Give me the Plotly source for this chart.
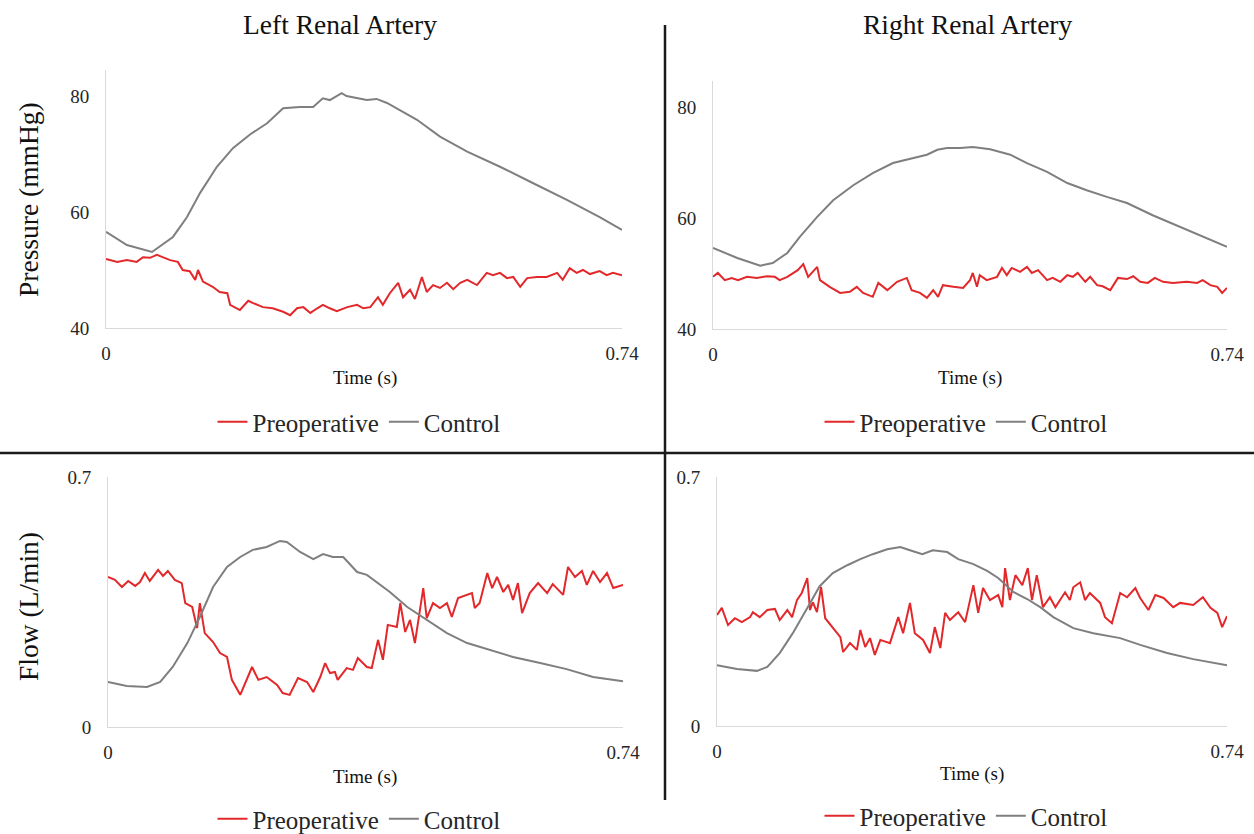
import plotly.graph_objects as go

# ---------------- data (time in s) ----------------
left_pressure_control = [(0, 56.6), (0.030, 54.3), (0.066, 53.1), (0.096, 55.7), (0.116, 59.1), (0.135, 63.3),
    (0.159, 67.8), (0.182, 71.0), (0.207, 73.4), (0.231, 75.3), (0.254, 77.9), (0.278, 78.1), (0.297, 78.1),
    (0.311, 79.6), (0.321, 79.3), (0.338, 80.5), (0.345, 80.0), (0.360, 79.6), (0.374, 79.3), (0.388, 79.5),
    (0.403, 78.8), (0.446, 75.9), (0.479, 73.0), (0.518, 70.4), (0.565, 67.8), (0.612, 65.0), (0.661, 62.1),
    (0.708, 59.1), (0.74, 56.9)]
left_pressure_preop = [(0, 51.9), (0.016, 51.4), (0.030, 51.7), (0.044, 51.4), (0.053, 52.2), (0.063, 52.1),
    (0.073, 52.6), (0.082, 52.2), (0.092, 51.7), (0.103, 51.4), (0.110, 50.0), (0.120, 49.8), (0.128, 48.3),
    (0.132, 50.0), (0.139, 48.0), (0.153, 47.1), (0.163, 46.2), (0.174, 46.0), (0.178, 44.0), (0.192, 43.1),
    (0.204, 44.7), (0.211, 44.3), (0.225, 43.6), (0.239, 43.4), (0.254, 42.8), (0.264, 42.2), (0.274, 43.4),
    (0.283, 43.6), (0.293, 42.6), (0.303, 43.4), (0.311, 44.0), (0.321, 43.4), (0.331, 42.9), (0.346, 43.6),
    (0.360, 44.0), (0.369, 43.4), (0.379, 43.6), (0.390, 45.3), (0.397, 44.0), (0.407, 46.0), (0.419, 47.8),
    (0.426, 45.3), (0.436, 46.6), (0.443, 45.0), (0.453, 48.8), (0.460, 46.2), (0.469, 47.4), (0.479, 46.9),
    (0.489, 47.8), (0.498, 46.7), (0.508, 47.8), (0.518, 48.3), (0.526, 47.8), (0.532, 47.4), (0.546, 49.5),
    (0.555, 49.1), (0.565, 49.5), (0.575, 48.6), (0.584, 48.8), (0.594, 47.1), (0.604, 48.6), (0.618, 48.8),
    (0.632, 48.8), (0.647, 49.5), (0.655, 48.3), (0.665, 50.3), (0.675, 49.5), (0.684, 50.0), (0.694, 49.3),
    (0.708, 49.8), (0.718, 49.1), (0.727, 49.5), (0.74, 49.1)]

right_pressure_control = [(0, 54.6), (0.035, 52.8), (0.068, 51.4), (0.086, 51.9), (0.107, 53.7), (0.125, 56.6),
    (0.150, 60.2), (0.173, 63.2), (0.202, 65.9), (0.230, 68.1), (0.259, 69.9), (0.288, 70.8), (0.308, 71.4),
    (0.323, 72.3), (0.337, 72.6), (0.356, 72.6), (0.374, 72.8), (0.399, 72.4), (0.428, 71.4), (0.452, 69.9),
    (0.481, 68.3), (0.510, 66.3), (0.538, 65.0), (0.567, 63.8), (0.596, 62.7), (0.633, 60.5), (0.672, 58.4),
    (0.711, 56.4), (0.74, 54.8)]
right_pressure_preop = [(0, 49.4), (0.007, 50.1), (0.017, 48.8), (0.027, 49.2), (0.036, 48.8), (0.049, 49.4),
    (0.063, 49.2), (0.078, 49.5), (0.089, 49.4), (0.096, 48.8), (0.107, 49.4), (0.115, 50.1), (0.122, 50.6),
    (0.130, 51.7), (0.137, 49.4), (0.150, 51.2), (0.154, 48.8), (0.168, 47.6), (0.183, 46.5), (0.197, 46.7),
    (0.207, 47.6), (0.216, 46.5), (0.230, 45.8), (0.238, 48.3), (0.251, 47.0), (0.265, 48.5), (0.279, 49.2),
    (0.286, 47.0), (0.298, 46.5), (0.308, 45.6), (0.317, 47.0), (0.324, 45.8), (0.331, 47.9), (0.346, 47.6),
    (0.360, 47.4), (0.370, 48.8), (0.374, 50.1), (0.380, 47.6), (0.384, 49.7), (0.394, 48.8), (0.409, 49.4),
    (0.416, 51.0), (0.423, 49.7), (0.430, 51.0), (0.442, 50.3), (0.452, 51.2), (0.459, 50.1), (0.468, 50.6),
    (0.481, 48.8), (0.489, 49.2), (0.500, 48.5), (0.510, 49.7), (0.518, 49.4), (0.525, 50.1), (0.536, 48.5),
    (0.543, 49.4), (0.553, 47.9), (0.561, 47.7), (0.572, 47.0), (0.583, 49.2), (0.596, 49.0), (0.605, 49.5),
    (0.615, 48.5), (0.626, 48.3), (0.636, 49.2), (0.648, 48.5), (0.662, 48.3), (0.682, 48.5), (0.697, 48.3),
    (0.705, 48.8), (0.716, 47.9), (0.726, 47.6), (0.733, 46.5), (0.74, 47.4)]

left_flow_control = [(0, 0.126), (0.027, 0.115), (0.056, 0.112), (0.075, 0.126), (0.093, 0.168), (0.114, 0.235),
    (0.132, 0.308), (0.151, 0.392), (0.171, 0.448), (0.190, 0.476), (0.208, 0.496), (0.228, 0.504),
    (0.247, 0.521), (0.257, 0.518), (0.276, 0.490), (0.295, 0.470), (0.309, 0.484), (0.323, 0.476),
    (0.338, 0.476), (0.358, 0.434), (0.372, 0.426), (0.391, 0.398), (0.405, 0.378), (0.430, 0.336),
    (0.458, 0.300), (0.487, 0.263), (0.516, 0.235), (0.545, 0.218), (0.582, 0.196), (0.621, 0.179),
    (0.659, 0.162), (0.697, 0.140), (0.74, 0.128)]
left_flow_preop = [(0, 0.420), (0.010, 0.412), (0.020, 0.392), (0.029, 0.409), (0.039, 0.395), (0.046, 0.406),
    (0.053, 0.431), (0.060, 0.409), (0.072, 0.440), (0.079, 0.423), (0.086, 0.437), (0.096, 0.412),
    (0.106, 0.403), (0.111, 0.347), (0.121, 0.336), (0.128, 0.277), (0.132, 0.347), (0.139, 0.263),
    (0.151, 0.238), (0.161, 0.207), (0.171, 0.196), (0.178, 0.132), (0.190, 0.090), (0.200, 0.137),
    (0.207, 0.168), (0.216, 0.132), (0.228, 0.140), (0.243, 0.118), (0.251, 0.095), (0.261, 0.090),
    (0.273, 0.137), (0.286, 0.126), (0.295, 0.098), (0.305, 0.140), (0.312, 0.179), (0.319, 0.151),
    (0.326, 0.154), (0.330, 0.132), (0.343, 0.165), (0.352, 0.160), (0.359, 0.193), (0.372, 0.168),
    (0.379, 0.165), (0.388, 0.244), (0.395, 0.188), (0.402, 0.286), (0.415, 0.280), (0.420, 0.347),
    (0.427, 0.266), (0.434, 0.300), (0.441, 0.235), (0.453, 0.389), (0.458, 0.305), (0.467, 0.347),
    (0.477, 0.333), (0.487, 0.347), (0.494, 0.308), (0.503, 0.361), (0.516, 0.370), (0.523, 0.375),
    (0.527, 0.333), (0.534, 0.347), (0.545, 0.431), (0.552, 0.389), (0.559, 0.420), (0.568, 0.378),
    (0.575, 0.398), (0.582, 0.356), (0.589, 0.403), (0.595, 0.319), (0.606, 0.375), (0.618, 0.403),
    (0.631, 0.375), (0.639, 0.400), (0.654, 0.370), (0.661, 0.448), (0.671, 0.420), (0.681, 0.437),
    (0.688, 0.398), (0.697, 0.437), (0.707, 0.406), (0.717, 0.431), (0.726, 0.389), (0.74, 0.398)]

right_flow_control = [(0, 0.171), (0.029, 0.160), (0.058, 0.155), (0.073, 0.166), (0.091, 0.205), (0.110, 0.261),
    (0.131, 0.332), (0.149, 0.393), (0.168, 0.430), (0.189, 0.452), (0.208, 0.469), (0.226, 0.483),
    (0.247, 0.497), (0.266, 0.503), (0.280, 0.494), (0.298, 0.483), (0.313, 0.494), (0.334, 0.489),
    (0.350, 0.469), (0.372, 0.455), (0.392, 0.436), (0.408, 0.416), (0.430, 0.377), (0.450, 0.357),
    (0.469, 0.334), (0.488, 0.306), (0.517, 0.275), (0.546, 0.261), (0.585, 0.247), (0.614, 0.228),
    (0.653, 0.205), (0.691, 0.188), (0.74, 0.171)]
right_flow_preop = [(0, 0.312), (0.007, 0.332), (0.016, 0.284), (0.026, 0.303), (0.036, 0.292), (0.048, 0.306),
    (0.052, 0.320), (0.062, 0.306), (0.073, 0.326), (0.084, 0.329), (0.091, 0.298), (0.102, 0.326),
    (0.109, 0.306), (0.116, 0.354), (0.123, 0.374), (0.131, 0.416), (0.135, 0.326), (0.139, 0.348),
    (0.145, 0.320), (0.151, 0.391), (0.157, 0.303), (0.168, 0.275), (0.179, 0.250), (0.183, 0.208),
    (0.193, 0.233), (0.203, 0.214), (0.208, 0.270), (0.215, 0.222), (0.222, 0.247), (0.229, 0.200),
    (0.237, 0.242), (0.251, 0.233), (0.263, 0.306), (0.270, 0.261), (0.280, 0.346), (0.287, 0.261),
    (0.299, 0.242), (0.309, 0.205), (0.316, 0.278), (0.324, 0.219), (0.331, 0.318), (0.338, 0.298),
    (0.350, 0.320), (0.360, 0.292), (0.372, 0.396), (0.379, 0.318), (0.386, 0.388), (0.396, 0.354),
    (0.408, 0.368), (0.414, 0.334), (0.418, 0.444), (0.425, 0.354), (0.433, 0.424), (0.443, 0.396),
    (0.451, 0.444), (0.457, 0.354), (0.464, 0.424), (0.473, 0.334), (0.483, 0.362), (0.491, 0.334),
    (0.505, 0.376), (0.512, 0.354), (0.517, 0.390), (0.527, 0.404), (0.534, 0.354), (0.541, 0.374),
    (0.556, 0.346), (0.563, 0.306), (0.573, 0.289), (0.585, 0.374), (0.595, 0.362), (0.607, 0.388),
    (0.614, 0.360), (0.626, 0.326), (0.636, 0.368), (0.648, 0.360), (0.662, 0.334), (0.672, 0.346),
    (0.691, 0.340), (0.705, 0.362), (0.716, 0.332), (0.726, 0.318), (0.733, 0.278), (0.74, 0.309)]

x_tick_vals = [0, 0.74]
x_tick_text = ["0", "0.74"]
pressure_ticks = [40, 60, 80]
flow_ticks = [0, 0.7]
flow_tick_text = ["0", "0.7"]

# ---------------- styling ----------------
W, H = 1254, 834
SERIF = "Liberation Serif, Times New Roman, serif"
RED = "#e2282a"
GRAY = "#7f7f7f"
AXIS_LINE = "#d9d9d9"
TXT = "#262626"

def px(x):
    return x / W

def py(y):
    return 1 - y / H

fig = go.Figure()

panels = [
    ("", left_pressure_control, left_pressure_preop, "legend"),
    ("2", right_pressure_control, right_pressure_preop, "legend2"),
    ("3", left_flow_control, left_flow_preop, "legend3"),
    ("4", right_flow_control, right_flow_preop, "legend4"),
]
for suf, ctrl, pre, leg in panels:
    fig.add_trace(go.Scatter(x=[p[0] for p in pre], y=[p[1] for p in pre], mode="lines",
                             name="Preoperative", line=dict(color=RED, width=2),
                             xaxis="x" + suf, yaxis="y" + suf, legend=leg))
    fig.add_trace(go.Scatter(x=[p[0] for p in ctrl], y=[p[1] for p in ctrl], mode="lines",
                             name="Control", line=dict(color=GRAY, width=2),
                             xaxis="x" + suf, yaxis="y" + suf, legend=leg))

def xax(x0, x1, anchor):
    return dict(domain=[px(x0), px(x1)], range=[0, 0.74], tickvals=x_tick_vals, ticktext=x_tick_text,
                showline=True, linecolor=AXIS_LINE, linewidth=1, showgrid=False, zeroline=False,
                ticks="", ticklabelstandoff=8, tickfont=dict(family=SERIF, size=19, color=TXT),
                anchor=anchor, fixedrange=True)

def yax(y0, y1, rng, vals, text, anchor):
    d = dict(domain=[py(y0), py(y1)], range=rng, tickvals=vals,
             showline=True, linecolor=AXIS_LINE, linewidth=1, showgrid=False, zeroline=False,
             ticks="", ticklabelstandoff=12, tickfont=dict(family=SERIF, size=19, color=TXT),
             anchor=anchor, fixedrange=True)
    if text is not None:
        d["ticktext"] = text
    return d

fig.update_layout(
    width=W, height=H, margin=dict(l=0, r=0, t=0, b=0, autoexpand=False),
    paper_bgcolor="white", plot_bgcolor="white",
    font=dict(family=SERIF, color=TXT),
    xaxis=xax(106, 622, "y"),
    yaxis=yax(328, 70, [40, 40 + (328 - 70) / 5.8], pressure_ticks, None, "x"),
    xaxis2=xax(713, 1227, "y2"),
    yaxis2=yax(329, 81, [40, 40 + (329 - 81) / 5.55], pressure_ticks, None, "x2"),
    xaxis3=xax(108, 623, "y3"),
    yaxis3=yax(727, 477, [0, 0.7], flow_ticks, flow_tick_text, "x3"),
    xaxis4=xax(717, 1227, "y4"),
    yaxis4=yax(726, 477, [0, 0.7], flow_ticks, flow_tick_text, "x4"),
)

leg_common = dict(orientation="h", xanchor="center", yanchor="middle", bgcolor="rgba(0,0,0,0)",
                  font=dict(family=SERIF, size=25, color=TXT), itemwidth=30, traceorder="normal")
fig.update_layout(
    legend=dict(x=px(359), y=py(422), **leg_common),
    legend2=dict(x=px(966), y=py(422), **leg_common),
    legend3=dict(x=px(359), y=py(819), **leg_common),
    legend4=dict(x=px(966), y=py(816), **leg_common),
)

annotations = [
    dict(text="Left Renal Artery", x=px(340), y=py(24), size=27.5),
    dict(text="Right Renal Artery", x=px(968), y=py(24), size=27.5),
    dict(text="Time (s)", x=px(365), y=py(378), size=19),
    dict(text="Time (s)", x=px(970), y=py(378), size=19),
    dict(text="Time (s)", x=px(365), y=py(777), size=19),
    dict(text="Time (s)", x=px(972), y=py(774), size=19),
]
for a in annotations:
    fig.add_annotation(text=a["text"], x=a["x"], y=a["y"], xref="paper", yref="paper",
                       xanchor="center", yanchor="middle", showarrow=False,
                       font=dict(family=SERIF, size=a["size"], color="#111111"))
for txt, yc in [("Pressure (mmHg)", 200), ("Flow (L/min)", 607)]:
    fig.add_annotation(text=txt, x=px(28), y=py(yc), xref="paper", yref="paper", textangle=-90,
                       xanchor="center", yanchor="middle", showarrow=False,
                       font=dict(family=SERIF, size=27.5, color="#111111"))

# quadrant divider lines
fig.add_shape(type="line", xref="paper", yref="paper", x0=px(665), x1=px(665), y0=py(25), y1=py(800),
              line=dict(color="#1a1a1a", width=2.5))
fig.add_shape(type="line", xref="paper", yref="paper", x0=0, x1=1, y0=py(453), y1=py(453),
              line=dict(color="#1a1a1a", width=2.5))

fig.write_html("out.html")
